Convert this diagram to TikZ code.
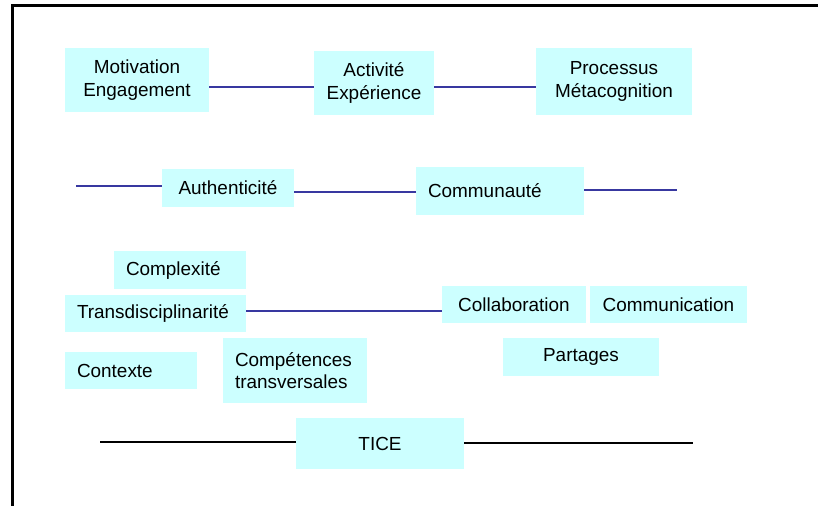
\documentclass[tikz,border=0pt]{standalone}
\usepackage{fontspec}
\setmainfont{Liberation Sans}
\usepackage{xcolor}
\usepackage{tikz}
\usetikzlibrary{positioning,calc}

\definecolor{boxcyan}{HTML}{CCFFFF}
\definecolor{linkblue}{HTML}{3838A0}

\begin{document}
\begin{tikzpicture}[x=0.75pt, y=-0.75pt,
    tag/.style={fill=boxcyan, inner xsep=0pt, inner ysep=0pt, align=center,
        font=\fontsize{14.2}{17}\selectfont},
    lefttag/.style={tag, inner xsep=9pt, text width=#1, align=left},
    link/.style={linkblue, line width=0.9pt},
    ticeline/.style={black, line width=0.9pt}]
    \useasboundingbox (0,0) rectangle (818,506);
    \draw[line width=2.25pt] (12,506) -- (12,6) -- (818,6);

    % top row
    \node[tag, minimum width=108pt, minimum height=48pt] (motiv) at (137,80) {Motivation\\Engagement};
    \node[tag, minimum width=90pt, minimum height=48pt] (activ) at (374,83) {Activité\\Expérience};
    \node[tag, minimum width=117pt, minimum height=50.25pt] (proc) at (614,81.5) {Processus\\Métacognition};
    \draw[link] (motiv.east |- 0,87) -- (activ.west |- 0,87);
    \draw[link] (activ.east |- 0,87) -- (proc.west |- 0,87);

    % middle row
    \node[tag, minimum width=99pt, minimum height=28.5pt] (auth) at (228,188) {Authenticité};
    \node[lefttag=108pt, minimum height=36pt] (commu) at (500,191) {Communauté};
    \coordinate (authL) at (76,186);
    \coordinate (commuR) at (677,190);
    \draw[link] (authL) -- (auth.west |- authL);
    \draw[link] (auth.east |- 0,192) -- (commu.west |- 0,192);
    \draw[link] (commu.east |- commuR) -- (commuR);

    % lower group
    \node[lefttag=81pt, minimum height=28.5pt] (complx) at (180,270) {Complexité};
    \node[lefttag=117.75pt, minimum height=27.75pt] (trans) at (155.5,313.5) {Transdisciplinarité};
    \node[lefttag=81pt, minimum height=27.75pt] (ctx) at (131,370.5) {Contexte};
    \node[lefttag=90pt, minimum height=48.75pt] (comp) at (295,370.5) {Compétences\\transversales};
    \node[tag, minimum width=108pt, minimum height=27.75pt] (collab) at (514,304.5) {Collaboration};
    \node[tag, minimum width=117.75pt, minimum height=27.75pt] (commun) at (668.5,304.5) {Communication};
    \node[tag, minimum width=117pt, minimum height=28.5pt] (part) at (581,357) {Partages};
    \draw[link] (trans.east |- 0,311) -- (collab.west |- 0,311);

    % TICE
    \node[tag, minimum width=126pt, minimum height=38.25pt] (tice) at (380,443.5) {TICE};
    \coordinate (ticeL) at (100,442);
    \coordinate (ticeR) at (693,443);
    \draw[ticeline] (ticeL) -- (tice.west |- ticeL);
    \draw[ticeline] (tice.east |- ticeR) -- (ticeR);
\end{tikzpicture}
\end{document}
